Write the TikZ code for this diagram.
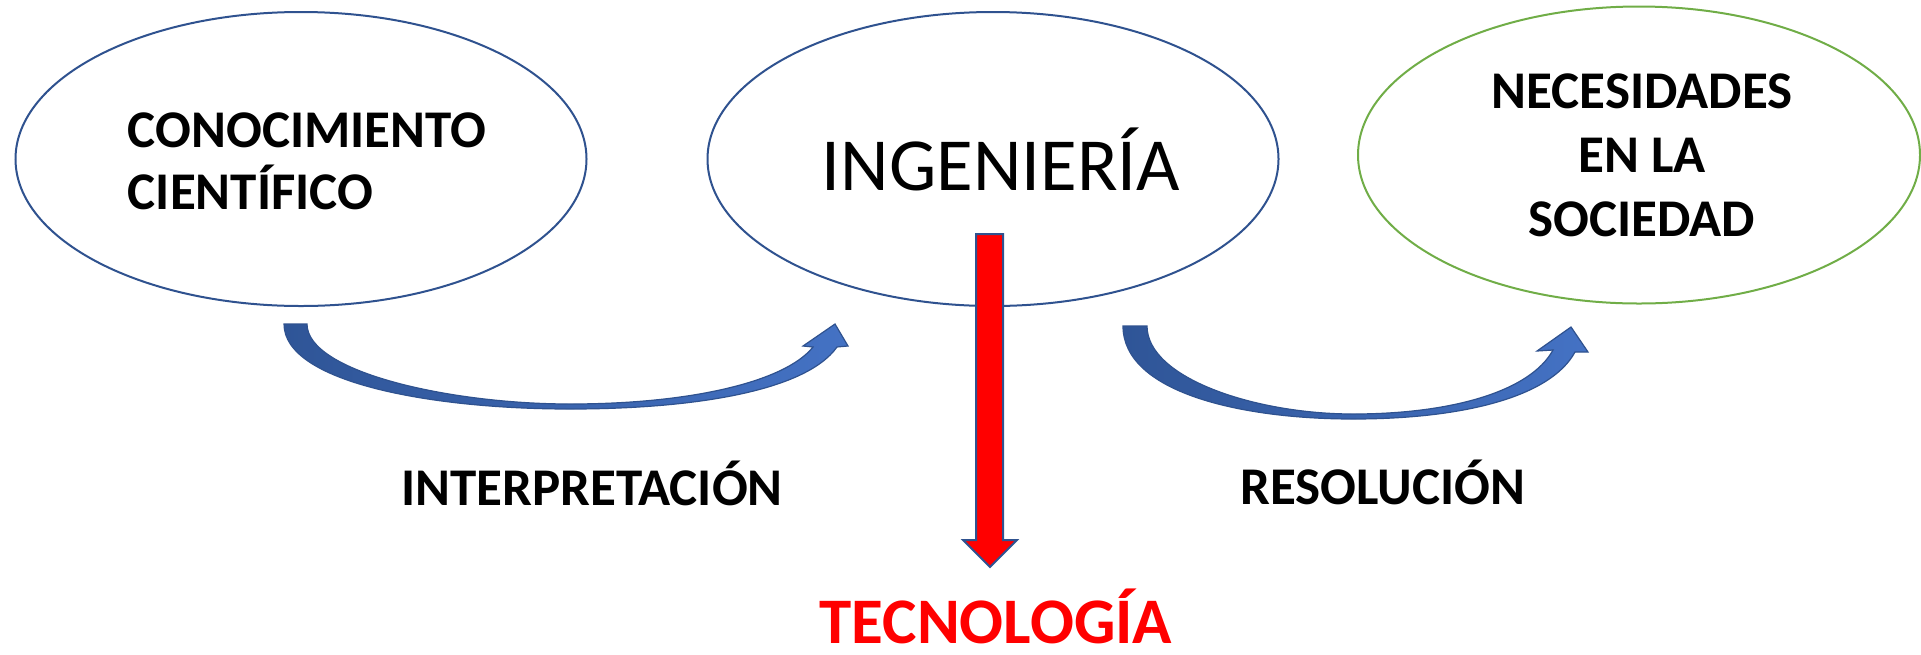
\documentclass[tikz,border=0pt]{standalone}
\usepackage{fontspec}
\setmainfont{Carlito}
\usetikzlibrary{shapes.geometric,positioning}
\definecolor{edgeblue}{RGB}{47,82,143}
\definecolor{leafgreen}{RGB}{112,173,71}
\definecolor{arrowdark}{RGB}{47,85,151}
\definecolor{arrowlight}{RGB}{68,114,196}
\begin{document}
\begin{tikzpicture}[x=0.5pt,y=-0.5pt]
            \tikzset{bubble/.style={draw, ellipse, line width=1pt, inner sep=0pt},
                     boldtext/.style={font=\fontsize{26.5}{31}\selectfont\bfseries},
                     bentarrow/.style={left color=arrowdark, right color=arrowlight, draw=edgeblue, line width=0.6pt},
                     downarrow/.style={fill=red, draw=edgeblue, line width=1pt}}

            \useasboundingbox (0,0) rectangle (1921,654);

            \node[bubble, draw=edgeblue, minimum width=285.5pt, minimum height=147pt] (conoc) at (301,159) {};
            \node[bubble, draw=edgeblue, minimum width=285.5pt, minimum height=147pt] (ingen) at (993,159) {};
            \node[bubble, draw=leafgreen, minimum width=281pt, minimum height=148.5pt] (neces) at (1639,155) {};

            \node[boldtext, align=left] (conoctext) at ([shift={(6,2)}]conoc.center) {CONOCIMIENTO\\CIENTÍFICO};
            \node[font=\fontsize{37.5}{44}\selectfont] (ingentext) at ([shift={(8,0)}]ingen.center) {INGENIERÍA};
            \node[font=\fontsize{26.5}{32}\selectfont\bfseries, align=center]
                (necestext) at ([shift={(3,0)}]neces.center) {NECESIDADES\\EN LA\\SOCIEDAD};

            \node[boldtext, anchor=base] (interp) at (592,505) {INTERPRETACIÓN};
            \node[boldtext, anchor=base] (resol) at (1383,504) {RESOLUCIÓN};
            \node[font=\fontsize{32.5}{36}\selectfont\bfseries, text=red, anchor=base, inner sep=0pt]
                (tecno) at (996,643) {TECNOLOGÍA};

            \coordinate (a1tail) at (284,324);
            \coordinate (a1tip) at (835,324);
            \coordinate (a2tail) at (1123,326);
            \coordinate (a2tip) at (1571,327);

            \shade[bentarrow] (a1tail) -- ++(23,0)
                .. controls (307,372) and (450,404) .. (570,404)
                .. controls (690,404) and (785,382) .. (813,347)
                -- (803,346) -- (a1tip) -- (848,346) -- (837,347)
                .. controls (805,392) and (690,409) .. (570,409)
                .. controls (430,409) and (284,382) .. (a1tail) -- cycle;

            \shade[bentarrow] (a2tail) -- ++(24,0)
                .. controls (1147,378) and (1255,414) .. (1353,414)
                .. controls (1450,414) and (1530,392) .. (1553,350)
                -- (1537,351) -- (a2tip) -- (1588,352) -- (1575,352)
                .. controls (1550,398) and (1460,419) .. (1353,419)
                .. controls (1240,419) and (1123,392) .. (a2tail) -- cycle;

            \draw[downarrow] (976,234) -- (1003,234) -- (1003,540) -- (1017,540)
                -- (990,567) -- (963,540) -- (976,540) -- cycle;
        \end{tikzpicture}
\end{document}
